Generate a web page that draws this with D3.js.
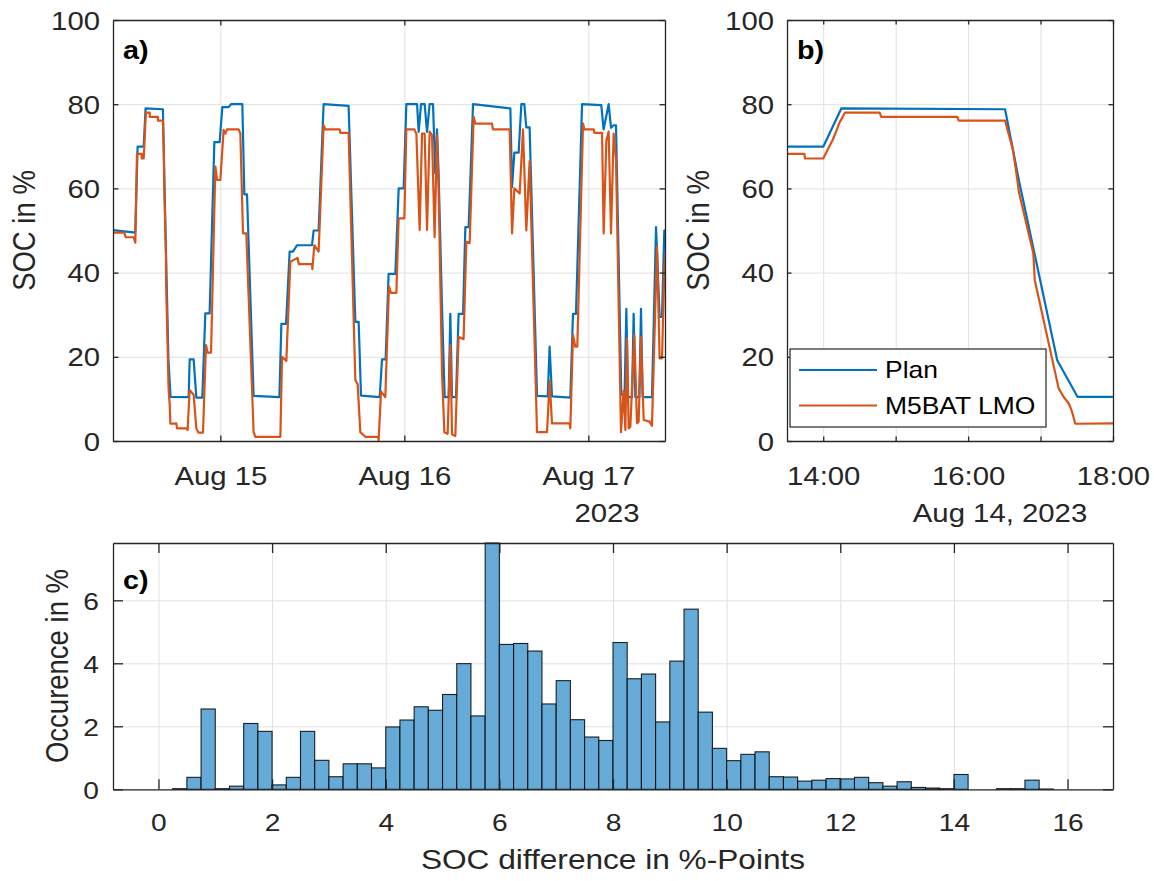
<!DOCTYPE html>
<html><head><meta charset="utf-8">
<script src="https://cdn.jsdelivr.net/npm/d3@7"></script>
<style>body{margin:0;background:#fff}svg{display:block}text{font-family:"Liberation Sans",Arial,Helvetica,sans-serif}</style>
</head><body><svg id="c" width="1154" height="881"></svg>
<script>
// ---------- DATA ----------
// hours since 2023-08-14 00:00
const planHours = [10.0,12.9,13.21,14.0,14.25,16.51,16.7,17.23,17.51,19.87,20.0,20.52,20.87,21.65,22.04,22.6,23.22,23.91,24.26,25.08,25.4,26.87,27.13,27.48,28.34,31.7,31.96,32.57,33.04,33.48,34.0,35.96,36.17,36.82,37.47,40.73,41.61,42.04,42.35,44.78,45.09,45.56,45.95,46.83,47.26,47.91,48.26,49.66,49.87,50.18,50.65,50.96,51.3,51.74,52.04,52.26,52.47,52.92,53.26,53.78,54.0,54.22,54.74,55.08,55.66,55.96,56.39,56.96,61.83,62.05,62.35,62.91,63.26,63.65,63.91,64.34,65.31,66.7,66.95,67.26,69.65,70.0,70.39,71.18,73.69,73.99,74.65,74.96,75.3,75.61,76.08,76.3,76.73,76.96,77.17,77.7,77.91,78.13,78.65,78.87,79.08,80.3,80.83,81.3,81.61,81.91,82.1];
const planSOC = [50.1,49.5,69.9,69.9,79.0,78.8,62,19.2,10.5,10.4,19.4,19.4,10.3,10.3,30.3,30.3,71,71,79.3,79.3,80,80,58.6,58.6,10.7,10.4,27.8,27.8,45,45,46.5,46.5,50,50,80,79.6,28.3,28.3,10.8,10.4,19.4,19.4,39.7,39.7,60,60,80,80,73.4,80,80,73.4,80,80,63.5,74,63.5,31.4,10.4,10.4,30.2,10.4,10.4,30.2,30.2,50.8,50.8,80,79,60.3,68.5,68.5,80,80,74.5,74.5,10.7,10.6,22.4,10.6,10.3,30.2,30.2,80,79.8,74,80,74.4,75,75,31.4,11,11,31.4,10.4,10.4,30.2,10.4,10.4,31.4,10.4,10.4,50.8,29.5,29.5,50,50];
const lmoHours = [10.0,11.48,11.65,12.69,12.91,13.13,13.74,13.75,14.0,14.05,14.1,14.13,14.17,14.2,14.23,14.27,14.3,14.78,14.8,15.85,15.87,16.51,16.62,16.68,16.7,16.9,16.92,17.25,17.3,17.33,17.39,17.43,17.48,18.26,18.35,19.66,19.73,20.0,20.52,20.87,21.13,21.74,22.13,22.34,22.79,23.35,23.57,24.0,24.43,24.65,24.87,26.39,26.61,26.96,27.39,28.34,28.57,31.83,32.05,32.61,33.13,34.08,34.24,35.96,36.0,36.26,36.82,37.47,37.7,39.56,39.65,40.73,41.61,41.91,42.26,42.91,44.57,44.65,44.96,45.52,46.0,46.26,46.96,47.26,48.0,48.26,49.3,49.57,50.0,50.31,50.65,50.96,51.3,51.61,51.95,52.26,52.47,52.92,53.22,53.65,54.0,54.22,54.65,55.08,55.73,56.09,56.52,57.04,57.26,59.44,59.55,61.74,62.05,62.35,63.04,63.48,63.91,64.34,65.31,66.61,66.95,67.26,69.56,69.65,70.0,70.3,70.56,71.31,71.48,72.7,72.79,73.79,74.0,74.35,74.65,74.96,75.3,75.61,76.26,76.6,76.83,77.04,77.26,77.48,78.0,78.35,78.56,78.87,79.22,80.0,80.3,80.96,81.3,81.61,81.91,82.1];
const lmoSOC = [49.5,49.5,48.4,48.4,47.1,68.2,68.2,67.1,67.1,68.8,70.5,71.5,73.2,74.5,75.8,77,78,78,77,77,76.1,76.1,69.1,62,59.2,44.6,38.2,12.5,11,10.2,8.9,7.2,4.1,4.2,3.0,3.0,2.6,12.1,11.0,3.0,2.0,2.0,22.8,21.0,21.0,65.2,62,62,73.9,73,74,74,73,49.3,49.3,2.1,1.0,1.0,20,19,42.6,43.5,42,42,40.8,46.5,45,75,74,74,73.2,73.2,14.5,13.5,2.1,1.0,1.0,0.2,11.8,10.4,36.7,35.2,35.2,52.9,52.9,74,74,73,50.1,73,73,50.1,73.5,72.6,48.4,72.6,60,16,2.1,1.7,22.8,1.6,1.2,24.7,24.2,47.3,47,77,75.4,75.4,74,74,49.3,60,58.8,74,50,66.5,2.1,2.1,14.3,4.2,4.2,3.0,25.2,22.4,22.4,75.4,74,74,73.2,73.2,49.3,71.3,73.5,49.3,73,67,2.1,11.9,2.6,24.3,3.0,3.4,25.2,4.2,4.6,24.7,5.0,4.6,3.6,46.2,19.6,19.6,40.6,45];
const seriesNames = ["Plan","M5BAT LMO"];
// histogram: bins of 0.25 %-points starting at 0
const binStart = 0, binWidth = 0.25;
const occurrence = [0.0,0.02,0.38,2.55,0.02,0.1,2.09,1.84,0.14,0.38,1.84,0.92,0.4,0.81,0.81,0.68,
 1.98,2.2,2.62,2.51,3.01,3.99,2.33,7.82,4.6,4.63,4.39,2.71,3.45,2.21,1.66,1.55,
 4.66,3.51,3.66,2.14,4.07,5.72,2.45,1.3,0.91,1.11,1.19,0.4,0.39,0.26,0.29,0.34,
 0.33,0.38,0.21,0.1,0.24,0.06,0.04,0.02,0.47,0.0,0.0,0.02,0.02,0.29,0.01,0.0];
const yTicksSOC = [0,20,40,60,80,100];
const xTicksHist = [0,2,4,6,8,10,12,14,16];
const yTicksHist = [0,2,4,6];

// ---------- SETUP ----------
const svg = d3.select('#c');
const SX = 1.15, AX = '#262626', GRID = '#e1e1e1';
const C_PLAN = '#0072BD', C_LMO = '#D95319';
const base = new Date(2023,7,14,0,0,0);
const toDate = h => new Date(base.getTime() + h*3600000);
const planData = planHours.map((h,i)=>({t:toDate(h), v:planSOC[i]}));
const lmoData = lmoHours.map((h,i)=>({t:toDate(h), v:lmoSOC[i]}));

function stretch(sel){
  sel.each(function(){
    const t = d3.select(this);
    const x = +t.attr('x')||0, y = +t.attr('y')||0;
    t.attr('x',null).attr('y',null).attr('transform',`translate(${x},${y}) scale(${SX},1)`);
  });
}
function addText(g, x, y, txt, o){
  return g.append('text').text(txt)
    .attr('font-size', o.fs).attr('fill', o.fill||AX)
    .attr('text-anchor', o.anchor||'middle')
    .attr('font-weight', o.bold?'bold':'normal')
    .attr('transform', `translate(${x},${y}) scale(${SX},1)` + (o.rot?` rotate(${o.rot})`:''));
}
function grid(g, x, y, gx, gy){
  const [x0,x1] = x.range(), [y0,y1] = y.range();
  const gg = g.append('g').attr('class','gridg');
  gg.append('g').attr('transform',`translate(0,${y0})`)
    .call(d3.axisBottom(x).tickValues(gx).tickSize(-(y0-y1)).tickFormat(''));
  gg.append('g').attr('transform',`translate(${x0},0)`)
    .call(d3.axisLeft(y).tickValues(gy).tickSize(-(x1-x0)).tickFormat(''));
  gg.selectAll('.domain').remove();
  gg.selectAll('line').attr('stroke',GRID).attr('stroke-width',1);
}
function axes(g, x, y, o){
  const [x0,x1] = x.range(), [y0,y1] = y.range();
  const ag = g.append('g');
  const b = ag.append('g').attr('transform',`translate(0,${y0})`)
    .call(d3.axisBottom(x).tickValues(o.xt).tickSizeInner(-o.tl).tickSizeOuter(0).tickFormat(o.xf));
  b.selectAll('text').attr('y', o.xLabY).attr('dy',0);
  ag.append('g').attr('transform',`translate(0,${y1})`)
    .call(d3.axisTop(x).tickValues(o.xt).tickSizeInner(-o.tl).tickSizeOuter(0).tickFormat(''));
  const l = ag.append('g').attr('transform',`translate(${x0},0)`)
    .call(d3.axisLeft(y).tickValues(o.yt).tickSizeInner(-o.tl).tickSizeOuter(0).tickPadding(o.yPad).tickFormat(o.yf));
  l.selectAll('text').attr('dy','0.36em');
  ag.append('g').attr('transform',`translate(${x1},0)`)
    .call(d3.axisRight(y).tickValues(o.yt).tickSizeInner(-o.tl).tickSizeOuter(0).tickFormat(''));
  ag.selectAll('.domain').attr('stroke',AX).attr('stroke-width',1.3);
  ag.selectAll('.tick line').attr('stroke',AX).attr('stroke-width',1.3);
  ag.selectAll('.tick text').attr('fill',AX).attr('font-size',o.fs)
    .attr('font-family','"Liberation Sans",Arial,sans-serif').call(stretch);
}
let clipId = 0;
function clip(x, y){
  const id = 'clip'+(clipId++);
  const [x0,x1] = x.range(), [y0,y1] = y.range();
  svg.append('clipPath').attr('id',id).append('rect')
    .attr('x',x0).attr('y',y1-2).attr('width',x1-x0).attr('height',y0-y1+4);
  return `url(#${id})`;
}
function drawLines(g, x, y){
  const line = d3.line().x(d=>x(d.t)).y(d=>y(d.v));
  const cg = g.append('g').attr('clip-path', clip(x,y));
  cg.append('path').datum(planData).attr('d',line).attr('fill','none')
    .attr('stroke',C_PLAN).attr('stroke-width',2.2).attr('stroke-linejoin','round');
  cg.append('path').datum(lmoData).attr('d',line).attr('fill','none')
    .attr('stroke',C_LMO).attr('stroke-width',2.2).attr('stroke-linejoin','round');
}

// ---------- PANEL A ----------
{
  const g = svg.append('g');
  const x = d3.scaleTime().domain([toDate(10), toDate(82)]).range([113,665]);
  const y = d3.scaleLinear().domain([0,100]).range([441,20]);
  const days = d3.timeDay.range(toDate(10), toDate(82.01));
  grid(g, x, y, days, yTicksSOC);
  drawLines(g, x, y);
  axes(g, x, y, {xt:days, xf:d3.timeFormat('%b %d'), yt:yTicksSOC, yf:d3.format('d'),
    tl:5.5, fs:25.5, xLabY:44, yPad:13});
  addText(g, 607, 522, '2023', {fs:25.5});
  addText(g, 35, 230.5, 'SOC in %', {fs:27.5, rot:-90});
  addText(g, 123, 59, 'a)', {fs:25, bold:true, anchor:'start', fill:'#000'});
}
// ---------- PANEL B ----------
{
  const g = svg.append('g');
  const t0 = new Date(2023,7,14,13,30), t1 = new Date(2023,7,14,18,0);
  const x = d3.scaleTime().domain([t0,t1]).range([787,1113]);
  const y = d3.scaleLinear().domain([0,100]).range([441,20]);
  const hours = d3.timeHour.range(new Date(2023,7,14,14,0), new Date(2023,7,14,18,1));
  grid(g, x, y, hours, yTicksSOC);
  drawLines(g, x, y);
  const hf = d3.timeFormat('%H:%M');
  axes(g, x, y, {xt:hours, xf:d=> d.getHours()%2===0 ? hf(d) : '', yt:yTicksSOC, yf:d3.format('d'),
    tl:4.5, fs:25.5, xLabY:44, yPad:13});
  addText(g, 1000, 522, 'Aug 14, 2023', {fs:25.5});
  addText(g, 709, 230.5, 'SOC in %', {fs:27.5, rot:-90});
  addText(g, 797, 59, 'b)', {fs:25, bold:true, anchor:'start', fill:'#000'});
  // legend
  const lg = g.append('g');
  lg.append('rect').attr('x',790).attr('y',349).attr('width',256).attr('height',78)
    .attr('fill','#fff').attr('stroke',AX).attr('stroke-width',1.2);
  const cols = [C_PLAN, C_LMO];
  seriesNames.forEach((n,i)=>{
    const yy = 370 + i*35.5;
    lg.append('line').attr('x1',799).attr('x2',877).attr('y1',yy).attr('y2',yy)
      .attr('stroke',cols[i]).attr('stroke-width',2.2);
    addText(lg, 885, yy+8.4, n, {fs:23, anchor:'start', fill:'#000'});
  });
}
// ---------- PANEL C ----------
{
  const g = svg.append('g');
  const x = d3.scaleLinear().domain([-0.8,16.8]).range([113,1113]);
  const y = d3.scaleLinear().domain([0,7.82]).range([789.3,543]);
  grid(g, x, y, xTicksHist, yTicksHist);
  const bins = occurrence.map((v,i)=>({x0:binStart+i*binWidth, x1:binStart+(i+1)*binWidth, v}));
  g.append('g').attr('clip-path', clip(x,y)).selectAll('rect').data(bins).join('rect')
    .attr('x',d=>x(d.x0)).attr('width',d=>x(d.x1)-x(d.x0))
    .attr('y',d=>y(d.v)).attr('height',d=>y(0)-y(d.v))
    .attr('fill','#66AAD7').attr('stroke','#000').attr('stroke-width',1.1).attr('stroke-opacity',0.85);
  axes(g, x, y, {xt:xTicksHist, xf:d3.format('d'), yt:yTicksHist, yf:d3.format('d'),
    tl:10, fs:24.5, xLabY:41.4, yPad:14});
  addText(g, 613, 869, 'SOC difference in %-Points', {fs:27.5});
  addText(g, 68, 666, 'Occurence in %', {fs:27.5, rot:-90});
  addText(g, 123, 589, 'c)', {fs:25, bold:true, anchor:'start', fill:'#000'});
}
</script></body></html>
